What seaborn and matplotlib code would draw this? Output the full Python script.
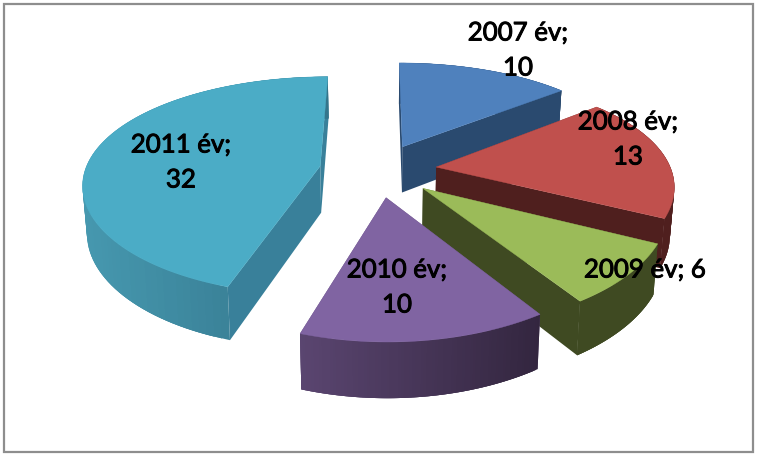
import numpy as np
import matplotlib
matplotlib.use("Agg")
import matplotlib.pyplot as plt
import matplotlib.patheffects as pe
import seaborn as sns
from matplotlib.patches import Polygon, Rectangle

# --- data ---
years = ["2007 év", "2008 év", "2009 év", "2010 év", "2011 év"]
values = [10, 13, 6, 10, 32]

# --- styles ---
top_colors = ["#4F81BD", "#C0504D", "#9BBB59", "#8064A2", "#4BACC6"]
radial_colors = ["#2A4A6F", "#4F1F1E", "#3F4A22", "#54406B", "#39809A"]
arc_left = ["#2A4A6F", "#4F1F1E", "#3F4A22", "#5A4570", "#4698AF"]
arc_right = ["#2A4A6F", "#4F1F1E", "#3F4A22", "#33263F", "#33748A"]
label_xy = [(518, 33, 518, 68), (628, 122, 628, 157), (645, 270, None, None),
            (397, 270, 397, 305), (181, 145, 181, 180)]

# --- projection settings ---
CX, CY = 378.0, 170.0
SCALE_X, SCALE_Y = 235.0, 106.7
PERSP_X, PERSP_Y = 0.15, 0.181
EXPLODE = 0.25
DEPTH = 47.0
BOTTOM_SHRINK = 0.985


def project(u, v, lower=False):
    sx = 1.0 / (1.0 + PERSP_X * v)
    sy = 1.0 / (1.0 + PERSP_Y * v)
    x = SCALE_X * u * sx
    y = SCALE_Y * v * sy
    if lower:
        return CX + x * BOTTOM_SHRINK, CY - y + DEPTH * sy ** 0.7
    return CX + x, CY - y


sns.set_theme(style="white")
plt.rcParams["font.family"] = ["Lato", "DejaVu Sans"]

fig = plt.figure(figsize=(7.57, 4.55), dpi=100, facecolor="white")
ax = fig.add_axes([0, 0, 1, 1])
ax.set_xlim(0, 757)
ax.set_ylim(455, 0)
ax.axis("off")
ax.add_patch(Rectangle((3.5, 3.5), 749, 448.5, fc="white", ec="#8E8E8E", lw=1.6, zorder=0))

fractions = np.array(values, dtype=float) / np.sum(values)
edges = np.concatenate([[0.0], np.cumsum(fractions)]) * 2 * np.pi

z = 1
for i in range(len(values)):
    a0, a1 = edges[i], edges[i + 1]
    mid = 0.5 * (a0 + a1)
    ox, oy = EXPLODE * np.sin(mid), EXPLODE * np.cos(mid)
    t = np.linspace(a0, a1, 90)
    u = ox + np.sin(t)
    v = oy + np.cos(t)
    xt, yt = project(u, v)
    xb, yb = project(u, v, lower=True)
    ax_t, ay_t = project(ox, oy)
    ax_b, ay_b = project(ox, oy, lower=True)

    # radial faces
    for j in (0, -1):
        ax.add_patch(Polygon([(ax_t, ay_t), (xt[j], yt[j]), (xb[j], yb[j]), (ax_b, ay_b)],
                             fc=radial_colors[i], ec="none", zorder=z))
    z += 1
    # curved outer face, shaded left to right; neighbouring quads overlap to hide seams
    shades = sns.blend_palette([arc_left[i], arc_right[i]], 64)
    span = max(xt.max() - xt.min(), 1.0)
    n = len(t)
    for k in range(n - 1):
        idx = int(np.clip((xt[k] - xt.min()) / span * 63, 0, 63))
        e = min(k + 3, n - 1)
        ax.add_patch(Polygon([(xt[k], yt[k]), (xt[e], yt[e]), (xb[e], yb[e]), (xb[k], yb[k])],
                             fc=shades[idx], ec="none", zorder=z))
    z += 1
    # top face
    pts = [(ax_t, ay_t)] + list(zip(xt, yt))
    ax.add_patch(Polygon(pts, fc=top_colors[i], ec=top_colors[i], lw=0.3, zorder=z))
    z += 1

stroke = [pe.withStroke(linewidth=0.7, foreground="black")]
for name, val, (x1, y1, x2, y2) in zip(years, values, label_xy):
    kw = dict(ha="center", va="center", fontsize=18.6, color="black", zorder=100,
              path_effects=stroke)
    if x2 is None:
        ax.text(x1, y1, f"{name}; {val}", **kw)
    else:
        ax.text(x1, y1, f"{name};", **kw)
        ax.text(x2, y2, f"{val}", **kw)

fig.savefig("out.png", dpi=100)
